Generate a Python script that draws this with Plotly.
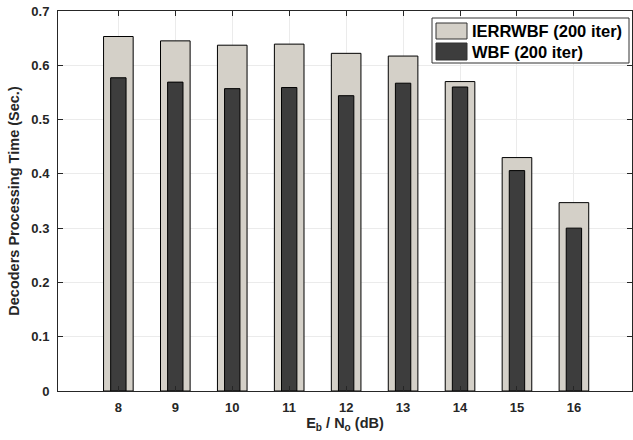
import plotly.graph_objects as go

# ---- data ----
snr_db = [8, 9, 10, 11, 12, 13, 14, 15, 16]
ierrwbf_time = [0.653, 0.645, 0.637, 0.639, 0.622, 0.617, 0.570, 0.430, 0.347]
wbf_time = [0.577, 0.569, 0.557, 0.559, 0.544, 0.567, 0.560, 0.406, 0.300]
series_names = ["IERRWBF (200 iter)", "WBF (200 iter)"]
y_ticks = [0, 0.1, 0.2, 0.3, 0.4, 0.5, 0.6, 0.7]
y_tick_text = ["0", "0.1", "0.2", "0.3", "0.4", "0.5", "0.6", "0.7"]

# ---- style ----
W, H = 633, 440
ML, MR, MT, MB = 58, 1, 11, 49
FONT = "Liberation Sans, Arial, sans-serif"
C_OUT = "#d4d0c8"
C_IN = "#3d3d3d"
AX = "#262626"

fig = go.Figure()
fig.add_trace(go.Bar(x=snr_db, y=ierrwbf_time, name=series_names[0], width=0.52,
                     marker=dict(color=C_OUT, line=dict(color="#000000", width=1)),
                     showlegend=False))
fig.add_trace(go.Bar(x=snr_db, y=wbf_time, name=series_names[1], width=0.27,
                     marker=dict(color=C_IN, line=dict(color="#000000", width=1)),
                     showlegend=False))

# custom legend (pixel geometry converted to paper coords)
pw = W - ML - MR
ph = H - MT - MB
def px(x):
    return (x - ML) / pw
def py(y):
    return (H - MB - y) / ph

shapes = [
    dict(type="rect", xref="paper", yref="paper", x0=px(432), x1=px(629), y0=py(63), y1=py(18),
         fillcolor="white", line=dict(color="#333333", width=1), layer="above"),
    dict(type="rect", xref="paper", yref="paper", x0=px(436), x1=px(467), y0=py(39), y1=py(23),
         fillcolor=C_OUT, line=dict(color="#333333", width=1), layer="above"),
    dict(type="rect", xref="paper", yref="paper", x0=px(436), x1=px(467), y0=py(60), y1=py(43),
         fillcolor=C_IN, line=dict(color="#333333", width=1), layer="above"),
]
annotations = [
    dict(xref="paper", yref="paper", x=px(470), y=py(31), text="<b>%s</b>" % series_names[0],
         showarrow=False, xanchor="left", yanchor="middle",
         font=dict(family=FONT, size=16.5, color="#000000")),
    dict(xref="paper", yref="paper", x=px(470), y=py(52), text="<b>%s</b>" % series_names[1],
         showarrow=False, xanchor="left", yanchor="middle",
         font=dict(family=FONT, size=16.5, color="#000000")),
]

fig.update_layout(
    width=W, height=H,
    margin=dict(l=ML, r=MR, t=MT, b=MB, pad=0),
    paper_bgcolor="white", plot_bgcolor="white",
    barmode="overlay",
    font=dict(family=FONT, color=AX),
    shapes=shapes, annotations=annotations,
    showlegend=False,
    xaxis=dict(
        range=[6.94, 17.02], tickvals=snr_db, ticktext=[str(v) for v in snr_db],
        showline=True, linecolor=AX, linewidth=1, mirror="ticks",
        ticks="inside", ticklen=5, tickcolor=AX, tickwidth=1,
        showgrid=True, gridcolor="#ebebeb", gridwidth=1, zeroline=False,
        tickfont=dict(family=FONT, size=13, color=AX, weight="bold"),
        ticklabelstandoff=4,
        title=dict(text="E<sub>b</sub> / N<sub>o</sub> (dB)", standoff=4,
                   font=dict(family=FONT, size=14.5, color=AX, weight="bold")),
    ),
    yaxis=dict(
        range=[0, 0.7], tickvals=y_ticks, ticktext=y_tick_text,
        showline=True, linecolor=AX, linewidth=1, mirror="ticks",
        ticks="inside", ticklen=5, tickcolor=AX, tickwidth=1,
        showgrid=True, gridcolor="#ebebeb", gridwidth=1, zeroline=False,
        tickfont=dict(family=FONT, size=13, color=AX, weight="bold"),
        ticklabelstandoff=5,
        title=dict(text="Decoders Processing Time (Sec.)", standoff=8,
                   font=dict(family=FONT, size=14.5, color=AX, weight="bold")),
    ),
)

fig.write_html("out.html")
